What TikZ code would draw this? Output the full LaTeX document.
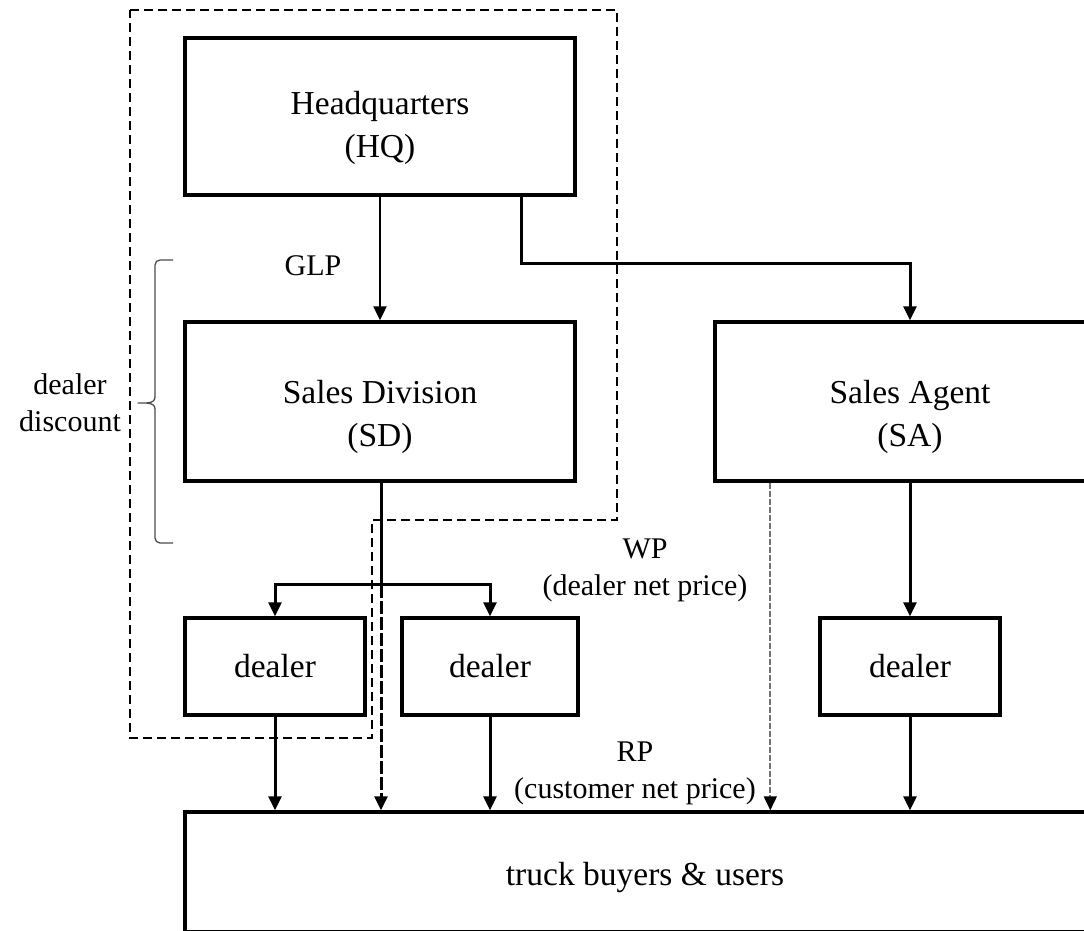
\documentclass[tikz,border=0pt]{standalone}
\usepackage{fontspec}
\setmainfont{Liberation Serif}
\usetikzlibrary{arrows.meta,calc}

\begin{document}
\begin{tikzpicture}[x=1pt,y=-1pt,
  box/.style={draw, line width=3.4pt, inner sep=0pt},
  boxtext/.style={align=center, inner sep=0pt, font=\fontsize{33.5}{43}\selectfont},
  lbl/.style={align=center, inner sep=0pt, font=\fontsize{30}{37}\selectfont},
  arr/.style={line width=3pt, -{Triangle[length=14pt,width=13pt]}},
  thinarr/.style={line width=2.2pt, -{Triangle[length=14pt,width=13pt]}},
  group/.style={line width=2.3pt, dash pattern=on 9pt off 5pt},
  brace/.style={line width=1.3pt, draw=black!70, line join=round}]
\useasboundingbox (0,0) rectangle (1084,931);
\clip (0,0) rectangle (1084,931);

% organisation boxes
\node[box, minimum width=390pt, minimum height=157pt] (hq) at (380,116.5) {};
\node[box, minimum width=390pt, minimum height=159pt] (sd) at (380,401.5) {};
\node[box, minimum width=390pt, minimum height=159pt] (sa) at (910,401.5) {};
\node[box, minimum width=180pt, minimum height=97pt] (d1) at (275,666.5) {};
\node[box, minimum width=176pt, minimum height=97pt] (d2) at (490,666.5) {};
\node[box, minimum width=180pt, minimum height=97pt] (d3) at (910,666.5) {};
\node[box, minimum width=920pt, minimum height=120pt] (tb) at (645,872) {};

% box captions
\node[boxtext] (hqt) at ([yshift=-11pt]hq.center) {Headquarters\\(HQ)};
\node[boxtext] (sdt) at ([yshift=-15pt]sd.center) {Sales Division\\(SD)};
\node[boxtext] (sat) at ([yshift=-15pt]sa.center) {Sales Agent\\(SA)};
\node[boxtext] (d1t) at (d1.center) {dealer};
\node[boxtext] (d2t) at (d2.center) {dealer};
\node[boxtext] (d3t) at (d3.center) {dealer};
\node[boxtext] (tbt) at ([yshift=-5pt]tb.center) {truck buyers \& users};

% price labels
\node[lbl] (glp) at (313,266) {GLP};
\node[lbl] (wp) at (645,570) {WP\\(dealer net price)};
\node[lbl] (rp) at (635,773) {RP\\(customer net price)};
\node[lbl] (dd) at (70,403) {dealer\\discount};

% dashed group around HQ, SD and the first dealer
\draw[group] (130,10) -- (617,10) -- (617,520) -- (372,520) -- (372,738) -- (130,738) -- cycle;

% brace for the dealer discount
\draw[brace] (173,260) -- (160,260) to[out=180,in=90] (155,265) -- (155,397)
  to[out=-90,in=0] (138,403) to[out=0,in=90] (155,409) -- (155,538)
  to[out=-90,in=180] (160,543) -- (173,543);

% flows from headquarters
\draw[thinarr] (hq.south) -- (sd.north);
\draw[arr] ([xshift=-55pt]hq.south east) -- ++(0,67) -| (sa.north);

% sales division to its dealers
\coordinate (br) at ($(sd.south)+(1,102)$);
\draw[line width=3pt] ([xshift=1pt]sd.south) -- (br);
\draw[arr] (br) -| (d1.north);
\draw[arr] (br) -| (d2.north);
\draw[arr, dash pattern=on 13pt off 3pt] (br) -- (br |- tb.north);

% sales agent to its dealer and direct sales
\draw[arr] (sa.south) -- (d3.north);
\draw[line width=1.8pt, draw=black!55, dash pattern=on 6pt off 2pt,
      -{Triangle[length=14pt,width=13pt,color=black]}]
  ([xshift=57pt]sa.south west) -- ([xshift=57pt]sa.south west |- tb.north);

% dealers to customers
\draw[arr] (d1.south) -- (d1.south |- tb.north);
\draw[arr] (d2.south) -- (d2.south |- tb.north);
\draw[arr] (d3.south) -- (d3.south |- tb.north);
\end{tikzpicture}
\end{document}
